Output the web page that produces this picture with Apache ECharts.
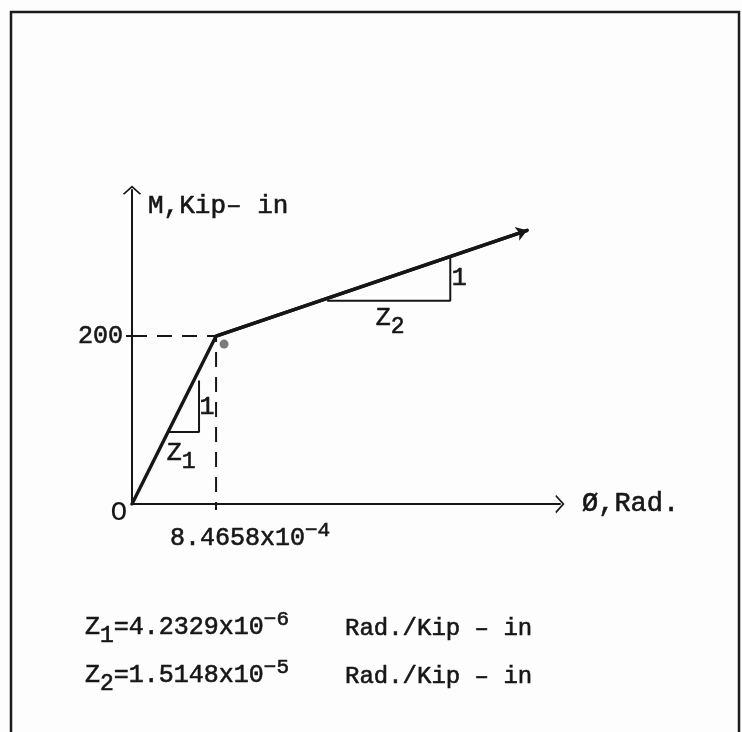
<!DOCTYPE html>
<html>
<head>
<meta charset="utf-8">
<script src="https://cdn.jsdelivr.net/npm/echarts@6/dist/echarts.min.js"></script>
<style>
  html, body { margin: 0; padding: 0; background: #fdfdfd; }
  #chart { width: 742px; height: 732px; }
</style>
</head>
<body>
<div id="chart"></div>
<script>
// Bilinear moment–curvature relation: curvature (rad) vs. moment (kip-in)
const curvature = [0, 8.4658e-4, 3.98e-3];
const moment = [0, 200, 326];

// yield point marked on the axes
const yieldCurvature = 8.4658e-4;
const yieldMoment = 200;

// slope triangles drawn against each branch
const slopeTriangle1 = [[3.63e-4, 85.7], [6.75e-4, 85.7], [6.75e-4, 147]];
const slopeTriangle2 = [[1.965e-3, 242], [3.205e-3, 242], [3.205e-3, 293]];

// small ink dot beside the yield point
const inkDot = [[9.27e-4, 190.5]];

// axis ranges
const curvatureMax = 4.31e-3;
const momentMax = 374;

// tick labels
const xTickLabel = '{t|8.4658x10}{sup|−4}';
const yTickLabel = '200';

// flexibilities of the two branches
const flexibilityLines = [
  { sub: '1', value: '=4.2329x10', exp: '−6', unit: 'Rad./Kip – in' },
  { sub: '2', value: '=1.5148x10', exp: '−5', unit: 'Rad./Kip – in' }
];

const INK = '#161616';
const FONT = '"Liberation Mono", "DejaVu Sans Mono", monospace';
const SIZE = 25;
const chevron = 'path://M0,9 L10,0 L20,9 L18,9.6 L10,2.4 L2,9.6 Z';

// typewriter-like ink weight
const inkText = { color: INK, textBorderColor: INK, textBorderWidth: 0.6, fontWeight: 'normal', fontFamily: FONT };

const rich = {
  t: Object.assign({ fontSize: SIZE }, inkText),
  z: Object.assign({ fontSize: SIZE }, inkText),
  sub: Object.assign({ fontSize: 23, padding: [16, 0, 0, 0] }, inkText),
  sup: Object.assign({ fontSize: 21, padding: [0, 0, 16, 0] }, inkText)
};

function pts(xs, ys) { return xs.map((x, i) => [x, ys[i]]); }

const annotations = [
  { value: [0, 0], label: { formatter: 'O', fontSize: 28, textBorderWidth: 0, offset: [-13, 9] } },
  { value: [7.56e-4, 115.5], label: { formatter: '1' } },
  { value: [4.95e-4, 60], label: { formatter: '{z|Z}{sub|1}' } },
  { value: [3.296e-3, 269], label: { formatter: '1' } },
  { value: [2.6e-3, 221], label: { formatter: '{z|Z}{sub|2}' } }
];

const titles = [];
flexibilityLines.forEach((row, i) => {
  titles.push({
    left: 80, top: 603 + i * 48,
    text: '{z|Z}{sub|' + row.sub + '}{t|' + row.value + '}{sup|' + row.exp + '}',
    textStyle: { rich: rich }
  });
  titles.push({
    left: 340, top: 612 + i * 48,
    text: row.unit,
    textStyle: Object.assign({ fontSize: 24 }, inkText)
  });
});

const chart = echarts.init(document.getElementById('chart'));
chart.setOption({
  backgroundColor: '#fdfdfd',
  animation: false,
  title: titles,
  grid: { left: 132, right: 182, top: 190, bottom: 228 },
  xAxis: {
    type: 'value', min: 0, max: curvatureMax,
    name: 'Ø,Rad.', nameLocation: 'end', nameGap: 22,
    nameTextStyle: Object.assign({ fontSize: 27 }, inkText),
    axisLine: { lineStyle: { color: INK, width: 2 }, symbol: ['none', chevron], symbolSize: [20, 9] },
    axisTick: { show: true, customValues: [yieldCurvature], length: 6, lineStyle: { color: INK, width: 2 } },
    axisLabel: {
      customValues: [yieldCurvature], formatter: () => xTickLabel,
      margin: 16, padding: [0, 0, 0, 68], rich: rich
    },
    splitLine: { show: false }
  },
  yAxis: {
    type: 'value', min: 0, max: momentMax,
    name: 'M,Kip– in', nameLocation: 'end', nameGap: -16,
    nameTextStyle: Object.assign({ fontSize: 26, align: 'left', verticalAlign: 'middle', padding: [0, 0, 0, 16] }, inkText),
    axisLine: { lineStyle: { color: INK, width: 2 }, symbol: ['none', chevron], symbolSize: [20, 9] },
    axisTick: { show: true, customValues: [yieldMoment], length: 6, lineStyle: { color: INK, width: 2 } },
    axisLabel: Object.assign({
      customValues: [yieldMoment], formatter: () => yTickLabel,
      margin: 9, fontSize: SIZE
    }, inkText),
    splitLine: { show: false }
  },
  series: [
    {
      type: 'line', data: pts(curvature, moment), showSymbol: false, silent: true,
      lineStyle: { color: INK, width: 3.4, cap: 'round', join: 'round' }, z: 5
    },
    {
      type: 'lines', coordinateSystem: 'cartesian2d', silent: true,
      data: [{ coords: [pts(curvature, moment)[1], pts(curvature, moment)[2]] }],
      symbol: ['none', 'arrow'], symbolSize: 11,
      lineStyle: { color: INK, width: 3.4, opacity: 1 }, z: 5
    },
    {
      type: 'line', showSymbol: false, silent: true,
      data: [[0, yieldMoment], [yieldCurvature, yieldMoment], [yieldCurvature, 0]],
      lineStyle: { color: INK, width: 2, type: [15, 10] }
    },
    {
      type: 'line', data: slopeTriangle1, showSymbol: false, silent: true,
      lineStyle: { color: INK, width: 2 }
    },
    {
      type: 'line', data: slopeTriangle2, showSymbol: false, silent: true,
      lineStyle: { color: INK, width: 2 }
    },
    {
      type: 'scatter', data: inkDot, symbolSize: 9, silent: true,
      itemStyle: { color: '#7a7a7a', opacity: 1 }
    },
    {
      type: 'scatter', data: annotations, symbolSize: 0, silent: true,
      itemStyle: { opacity: 1 },
      label: Object.assign({ show: true, position: 'inside', fontSize: SIZE, rich: rich }, inkText)
    }
  ],
  graphic: [{
    type: 'rect', silent: true,
    shape: { x: 11, y: 12, width: 728, height: 740 },
    style: { fill: 'none', stroke: '#1c1c1c', lineWidth: 2.5 }
  }]
});
</script>
</body>
</html>
